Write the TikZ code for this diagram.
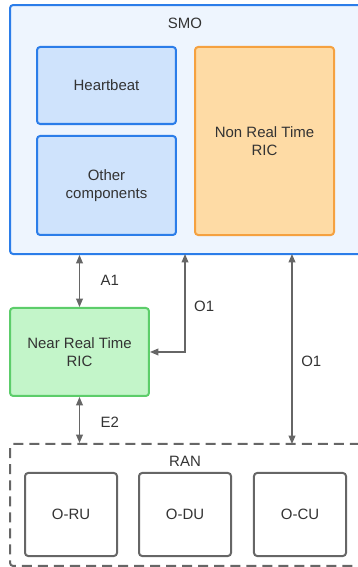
\documentclass[tikz,border=0pt]{standalone}
\usepackage{fontspec}
\setmainfont{Liberation Sans}
\usetikzlibrary{arrows.meta}

\definecolor{smoblue}{HTML}{2B7DE9}
\definecolor{smofill}{HTML}{EEF5FE}
\definecolor{partfill}{HTML}{CFE3FC}
\definecolor{ricorange}{HTML}{F5A140}
\definecolor{ricfill}{HTML}{FEDBA5}
\definecolor{nrtgreen}{HTML}{5CCD6A}
\definecolor{nrtfill}{HTML}{C3F5C9}
\definecolor{linkgray}{HTML}{666666}
\definecolor{textgray}{HTML}{333333}

\tikzset{
  block/.style={draw, rounded corners=3pt, line width=1.9pt, inner sep=2pt,
    align=center, text=textgray},
  link/.style={draw=linkgray, line width=1.1pt,
    {Triangle[width=6.5pt,length=8pt]}-{Triangle[width=6.5pt,length=8pt]}},
  linklabel/.style={anchor=west, text=textgray}
}

\begin{document}
\begin{tikzpicture}[font=\fontsize{14.2}{17}\selectfont]
  \useasboundingbox (0,0) rectangle (11.933,18.9);
  \clip (0,0) rectangle (11.933,18.9);

  % SMO and what sits inside it
  \node[block, draw=smoblue, fill=smofill, minimum width=11.767cm, minimum height=8.3cm]
    (smo) at (6.217,14.583) {};
  \node[text=textgray] (smolabel) at (6.167,18.133) {SMO};
  \node[block, draw=smoblue, fill=partfill, minimum width=4.633cm, minimum height=2.567cm]
    (heartbeat) at (3.55,16.05) {Heartbeat};
  \node[block, draw=smoblue, fill=partfill, minimum width=4.633cm, minimum height=3.3cm]
    (other) at (3.55,12.717) {Other\\components};
  \node[block, draw=ricorange, fill=ricfill, minimum width=4.633cm, minimum height=6.267cm]
    (nonrt) at (8.817,14.2) {Non Real Time\\RIC};

  % near real time RIC
  \node[block, draw=nrtgreen, fill=nrtfill, minimum width=4.633cm, minimum height=2.933cm]
    (nearrt) at (2.65,7.167) {Near Real Time\\RIC};

  % RAN with its units
  \node[block, dashed, dash pattern=on 9.5pt off 5.7pt, draw=linkgray, line width=1.9pt,
    minimum width=11.767cm, minimum height=4.067cm] (ran) at (6.217,2.067) {};
  \node[text=textgray] (ranlabel) at (6.167,3.533) {RAN};
  \foreach \name/\txt/\x in {oru/O-RU/2.367, odu/O-DU/6.167, ocu/O-CU/10.0}
    \node[block, draw=linkgray, fill=white, minimum width=3.067cm, minimum height=2.767cm]
      (\name) at (\x,1.75) {\txt};

  % interfaces
  \coordinate (o1top) at (6.167,10.433);
  \coordinate (o2top) at (9.733,10.433);
  \coordinate (o2bot) at (9.733,4.1);
  \draw[link] (nearrt.north) -- (nearrt.north |- smo.south);
  \draw[link] (nearrt.east) -| (o1top);
  \draw[link] (o2top) -- (o2bot);
  \draw[link] (nearrt.south) -- (nearrt.south |- ran.north);

  \node[linklabel] (a1) at (3.233,9.567) {A1};
  \node[linklabel] (o1a) at (6.35,8.7) {O1};
  \node[linklabel] (o1b) at (9.92,6.867) {O1};
  \node[linklabel] (e2) at (3.233,4.833) {E2};
\end{tikzpicture}
\end{document}
